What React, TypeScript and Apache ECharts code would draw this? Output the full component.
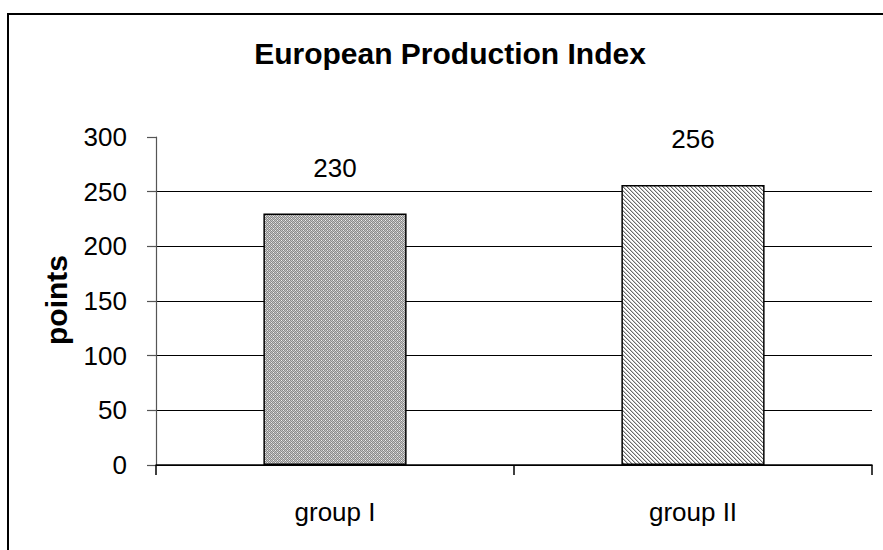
import React, { useEffect, useRef } from "react";
import * as echarts from "echarts";

const categories = ["group I", "group II"];
const values = [230, 256];
const yMin = 0;
const yMax = 300;
const yInterval = 50;
const titleText = "European Production Index";
const yAxisTitle = "points";

function makeDots(): HTMLCanvasElement {
  const c = document.createElement("canvas");
  c.width = 4;
  c.height = 4;
  const ctx = c.getContext("2d")!;
  for (let y = 0; y < 4; y++) {
    for (let x = 0; x < 4; x++) {
      let col = (x + y) % 2 === 0 ? "#8a8a8a" : "#c4c4c4";
      if (x % 4 === 1 && y % 4 === 0) col = "#f0f0f0";
      if (x % 4 === 3 && y % 4 === 2) col = "#e8e8e8";
      ctx.fillStyle = col;
      ctx.fillRect(x, y, 1, 1);
    }
  }
  return c;
}

function makeHatch(): HTMLCanvasElement {
  const c = document.createElement("canvas");
  c.width = 4;
  c.height = 4;
  const ctx = c.getContext("2d")!;
  ctx.fillStyle = "#ffffff";
  ctx.fillRect(0, 0, 4, 4);
  for (let y = 0; y < 4; y++) {
    for (let x = 0; x < 4; x++) {
      if ((x - y + 8) % 4 === 0) {
        ctx.fillStyle = "#6a6a6a";
        ctx.fillRect(x, y, 1, 1);
      } else if ((x - y + 8) % 4 === 1) {
        ctx.fillStyle = "#c8c8c8";
        ctx.fillRect(x, y, 1, 1);
      }
    }
  }
  return c;
}

export default function App() {
  const ref = useRef<HTMLDivElement>(null);
  useEffect(() => {
    document.body.style.margin = "0";
    if (!ref.current) return;
    const chart = echarts.init(ref.current, undefined, { renderer: "svg" });
    const dots = makeDots();
    const hatch = makeHatch();
    const patterns: any[] = [
      { image: dots, repeat: "repeat", imageWidth: 4, imageHeight: 4 },
      { image: hatch, repeat: "repeat", imageWidth: 4, imageHeight: 4 },
    ];
    const font = "'Liberation Sans', Arial, sans-serif";
    const gridColors: string[] = [];
    const nLines = (yMax - yMin) / yInterval + 1;
    for (let i = 0; i < nLines; i++) gridColors.push(i === nLines - 1 ? "rgba(0,0,0,0)" : "#000000");

    chart.setOption({
      animation: false,
      backgroundColor: "#ffffff",
      textStyle: { fontFamily: font },
      title: {
        text: titleText,
        left: 445,
        top: 33,
        textAlign: "center",
        textStyle: { fontFamily: font, fontSize: 30, fontWeight: "bold", color: "#000" },
      },
      graphic: [
        {
          type: "rect",
          shape: { x: 8, y: 14, width: 1000, height: 1000 },
          style: { fill: "none", stroke: "#000", lineWidth: 2 },
          silent: true,
        },
        {
          type: "text",
          x: 56,
          y: 300,
          rotation: Math.PI / 2,
          style: {
            text: yAxisTitle,
            fontFamily: font,
            fontSize: 30,
            fontWeight: "bold",
            fill: "#000",
            align: "center",
            verticalAlign: "middle",
          },
        },
      ],
      grid: { left: 156, right: 11, top: 137, bottom: 85, containLabel: false },
      xAxis: {
        type: "category",
        data: categories,
        boundaryGap: true,
        axisLine: { show: true, lineStyle: { color: "#000", width: 1.5 } },
        axisTick: { show: true, length: 10, inside: false, lineStyle: { color: "#000", width: 1.5 } },
        axisLabel: { color: "#000", fontSize: 26, fontFamily: font, margin: 34 },
        splitLine: { show: false },
      },
      yAxis: {
        type: "value",
        min: yMin,
        max: yMax,
        interval: yInterval,
        axisLine: { show: true, lineStyle: { color: "#555", width: 1.2 } },
        axisTick: { show: true, length: 9, inside: false, lineStyle: { color: "#555", width: 1.2 } },
        axisLabel: { color: "#000", fontSize: 26, fontFamily: font, margin: 29 },
        splitLine: { show: true, lineStyle: { color: gridColors, width: 1 } },
      },
      series: [
        {
          type: "bar",
          data: values.map((v, i) => ({
            value: v,
            itemStyle: { color: patterns[i], borderColor: "#000", borderWidth: 1.5 },
          })),
          barWidth: "40%",
          label: {
            show: true,
            position: "top",
            distance: 33,
            color: "#000",
            fontSize: 26,
            fontFamily: font,
          },
        },
      ],
    });
    return () => chart.dispose();
  }, []);
  return <div ref={ref} style={{ width: 883, height: 550 }} />;
}
